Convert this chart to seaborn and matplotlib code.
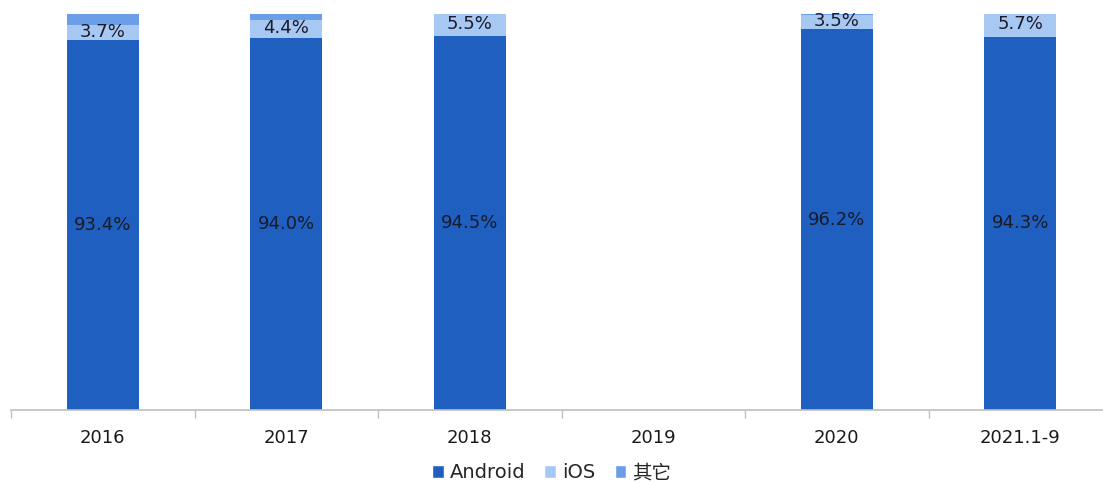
import numpy as np
import pandas as pd
import matplotlib
matplotlib.use("Agg")
import matplotlib.pyplot as plt
import seaborn as sns
from matplotlib.patches import Patch

sns.set_theme(style="white")
plt.rcParams["font.family"] = ["DejaVu Sans", "Noto Sans CJK SC"]

# ── Data ──────────────────────────────────────────────────────────────────────
years = ["2016", "2017", "2018", "2019", "2020", "2021.1-9"]
android = [93.4, 94.0, 94.5, np.nan, 96.2, 94.3]
ios = [3.7, 4.4, 5.5, np.nan, 3.5, 5.7]
other = [2.9, 1.6, 0.0, np.nan, 0.3, 0.0]

c_android = "#1F5FBF"
c_ios = "#A6C8F2"
c_other = "#6A9FE8"

df = pd.DataFrame({"year": years, "Android": android, "iOS": ios, "其它": other})
df["top_ios"] = df["Android"] + df["iOS"]
df["top_all"] = df["top_ios"] + df["其它"]

# ── Plot ──────────────────────────────────────────────────────────────────────
fig = plt.figure(figsize=(11.03, 4.83), dpi=100)
ax = fig.add_axes([11 / 1103, 73 / 483, 1101 / 1103, 396 / 483])

# stacked bars drawn as overlapping cumulative totals
for col, colr in [("top_all", c_other), ("top_ios", c_ios), ("Android", c_android)]:
    sns.barplot(data=df, x="year", y=col, order=years, color=colr,
                width=0.39, saturation=1, ax=ax, edgecolor="none")

ax.set_ylim(0, 100)
ax.set_xlim(-0.5, len(years) - 0.5)

txt = "#1A1A2A"
for i, row in df.iterrows():
    if np.isnan(row["Android"]):
        continue
    ax.text(i, row["Android"] / 2, f"{row['Android']:.1f}%", ha="center",
            va="center", fontsize=13, color=txt)
    ax.text(i, row["Android"] + row["iOS"] / 2 + 0.3, f"{row['iOS']:.1f}%",
            ha="center", va="center", fontsize=13, color=txt)

for s in ["top", "left", "right"]:
    ax.spines[s].set_visible(False)
ax.spines["bottom"].set_color("#BFBFBF")
ax.spines["bottom"].set_linewidth(1.2)
ax.set_yticks([])
ax.set_xlabel("")
ax.set_ylabel("")
ax.set_xticks(range(len(years)))
ax.set_xticklabels(years, fontsize=13, color="#1A1A1A")
ax.tick_params(axis="x", length=0, pad=14)
ax.set_xticks(np.arange(-0.5, len(years)), minor=True)
ax.tick_params(axis="x", which="minor", length=6, color="#BFBFBF", width=1,
               direction="out", bottom=True)

handles = [Patch(facecolor=c_android, label="Android"),
           Patch(facecolor=c_ios, label="iOS"),
           Patch(facecolor=c_other, label="其它")]
fig.legend(handles=handles, loc="center", bbox_to_anchor=(0.5, 10 / 483),
           ncol=3, frameon=False, fontsize=14, handlelength=0.6,
           handleheight=0.6, handletextpad=0.3, columnspacing=1.0)

fig.savefig("out.png", dpi=100)
